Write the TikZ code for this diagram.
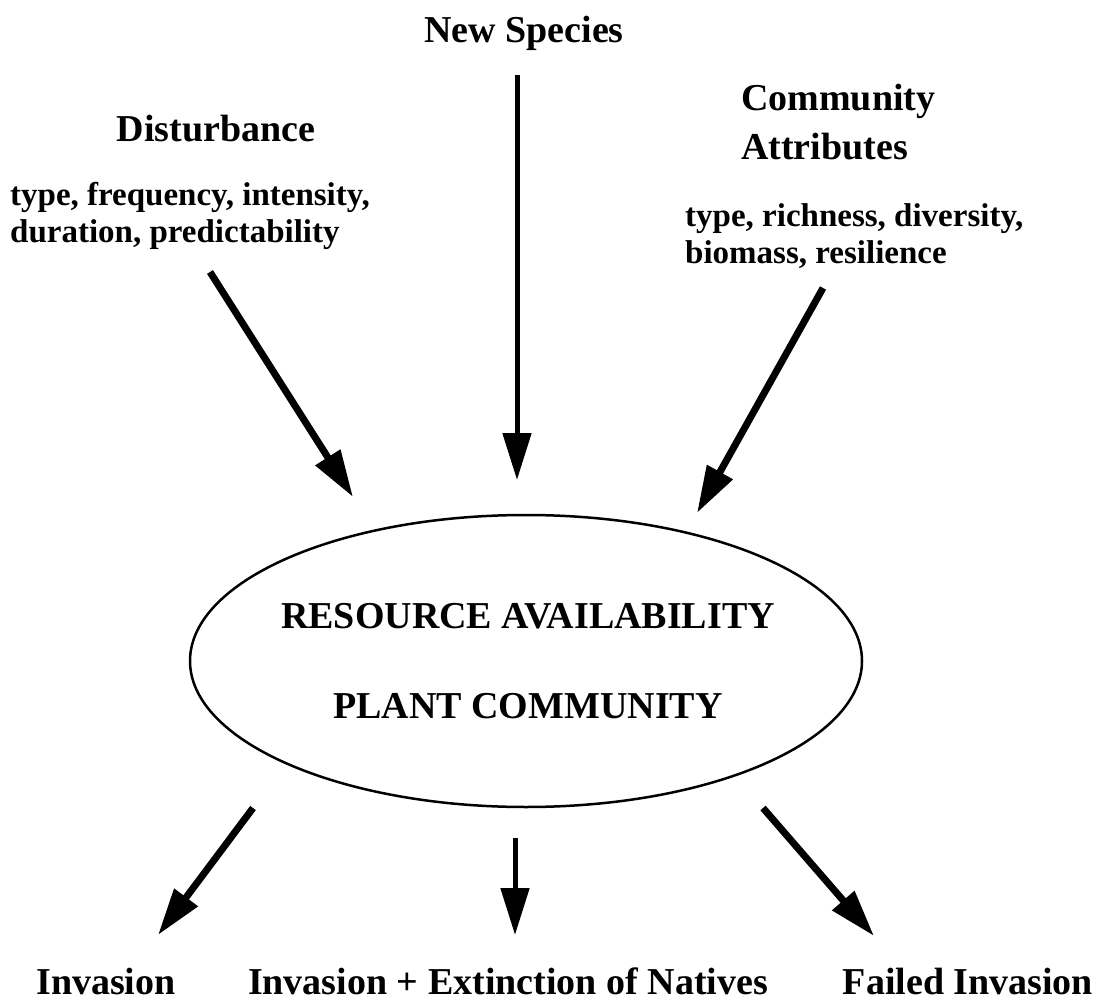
\documentclass[tikz,border=0pt]{standalone}
\usepackage{fontspec}
\setmainfont{Liberation Serif}
\usetikzlibrary{arrows.meta,shapes.geometric}
\begin{document}
\begin{tikzpicture}[x=1pt,y=-1pt,
  lbl/.style={font=\fontsize{38}{44}\selectfont\bfseries, inner sep=0pt, anchor=base},
  sub/.style={font=\fontsize{33}{38}\selectfont\bfseries, inner sep=0pt, anchor=base west},
  fatarrow/.style={line width=7pt, -{Triangle[length=47pt,width=28pt]}},
  slimarrow/.style={line width=5pt, -{Triangle[length=47pt,width=28pt]}}]
\useasboundingbox[fill=white] (0,0) rectangle (1096,1006);

% top labels
\node[lbl] (newsp) at (524,43) {New Species};
\node[lbl] (dist) at (216,142) {Disturbance};
\node[sub] (distA) at (10,205) {type, frequency, intensity,};
\node[sub] (distB) at (10,243) {duration, predictability};
\node[lbl, anchor=base west] (comm1) at (741,111) {Community};
\node[lbl, anchor=base west] (comm2) at (741,160) {Attributes};
\node[sub] (commA) at (685,226) {type, richness, diversity,};
\node[sub] (commB) at (685,263) {biomass, resilience};

% central ellipse
\node[draw, ellipse, line width=2.5pt, minimum width=672pt, minimum height=292pt, inner sep=0pt] (ell) at (526,661) {};
\node[lbl] (res) at (528,628) {RESOURCE AVAILABILITY};
\node[lbl] (plant) at (528,718) {PLANT COMMUNITY};

% bottom labels
\node[lbl] (inv) at (106,994) {Invasion};
\node[lbl] (invext) at (508,994) {Invasion + Extinction of Natives};
\node[lbl] (failed) at (968,994) {Failed Invasion};

% arrow end points
\coordinate (a1s) at (210,272); \coordinate (a1e) at (353,497);
\coordinate (a2s) at (517,75);  \coordinate (a2e) at (517,480);
\coordinate (a3s) at (823,288); \coordinate (a3e) at (697,513);
\coordinate (b1s) at (253,808); \coordinate (b1e) at (158,935);
\coordinate (b2s) at (515,838); \coordinate (b2e) at (515,935);
\coordinate (b3s) at (763,808); \coordinate (b3e) at (874,936);

\draw[fatarrow] (a1s) -- (a1e);
\draw[slimarrow] (a2s) -- (a2e);
\draw[fatarrow] (a3s) -- (a3e);
\draw[fatarrow] (b1s) -- (b1e);
\draw[slimarrow] (b2s) -- (b2e);
\draw[fatarrow] (b3s) -- (b3e);
\end{tikzpicture}
\end{document}
